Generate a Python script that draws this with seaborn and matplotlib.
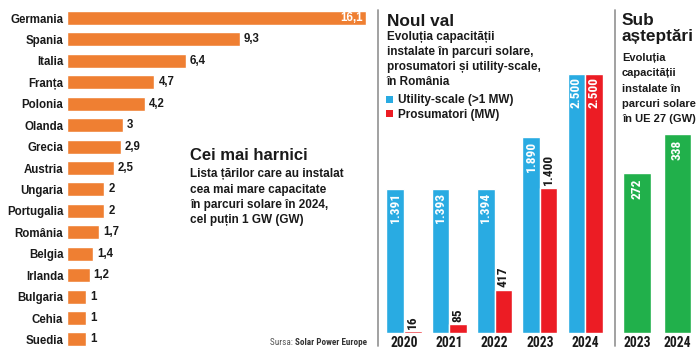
import matplotlib
matplotlib.use("Agg")
import matplotlib.pyplot as plt
from matplotlib.lines import Line2D
from matplotlib.patches import Rectangle
import seaborn as sns
import pandas as pd

# ---------------- data ----------------
countries = ["Germania", "Spania", "Italia", "Franța", "Polonia", "Olanda", "Grecia",
             "Austria", "Ungaria", "Portugalia", "România", "Belgia", "Irlanda",
             "Bulgaria", "Cehia", "Suedia"]
capacity_gw = [16.1, 9.3, 6.4, 4.7, 4.2, 3, 2.9, 2.5, 2, 2, 1.7, 1.4, 1.2, 1, 1, 1]

years_ro = ["2020", "2021", "2022", "2023", "2024"]
utility_mw = [1391, 1393, 1394, 1890, 2500]
prosumer_mw = [16, 85, 417, 1400, 2500]
series_names = ["Utility-scale (>1 MW)", "Prosumatori (MW)"]

years_eu = ["2023", "2024"]
eu_gw = [272, 338]

ORANGE = "#EF7F32"
BLUE = "#29ABE2"
RED = "#EC1C24"
GREEN = "#21B04B"
GRAY = "#9A9A9A"
INK = "#1a1a1a"

sns.set_theme(style="white")
REG = ["Liberation Sans", "DejaVu Sans"]
NAR = ["Roboto Condensed", "Archivo Narrow", "Liberation Sans", "DejaVu Sans"]
plt.rcParams["font.family"] = REG

W, H = 698, 353
fig = plt.figure(figsize=(W / 100, H / 100), dpi=100)
fig.patch.set_facecolor("white")


def ax_px(l, t, r, b):
    return fig.add_axes([l / W, 1 - b / H, (r - l) / W, (b - t) / H])


def ptext(x, y, s, **kw):
    kw.setdefault("va", "baseline")
    kw.setdefault("ha", "left")
    return fig.text(x / W, 1 - y / H, s, **kw)


def clean(ax):
    for sp in ax.spines.values():
        sp.set_visible(False)
    ax.set_facecolor("none")
    ax.set_xlabel("")
    ax.set_ylabel("")


def fmt_gw(v):
    return str(int(v)) if float(v).is_integer() else f"{v:.1f}".replace(".", ",")


def fmt_mw(v):
    return f"{int(v):,}".replace(",", ".")


# ---------------- panel 1 : countries ----------------
ax1 = ax_px(67.3, 7.3, 367.3, 350.2)
df1 = pd.DataFrame({"country": countries, "gw": capacity_gw})
sns.barplot(data=df1, x="gw", y="country", orient="h", color=ORANGE,
            saturation=1, width=0.653, ax=ax1)
ax1.set_xlim(0, 300 / 18.53)
ax1.set_ylim(15.5, -0.5)
clean(ax1)
ax1.set_xticks([])
ax1.tick_params(axis="y", left=False, length=0, pad=2.9)
for lab in ax1.get_yticklabels():
    lab.set_fontweight("bold")
    lab.set_fontsize(8.3)
    lab.set_color(INK)
for i, p in enumerate(ax1.patches[:len(countries)]):
    v = capacity_gw[i]
    yc = p.get_y() + p.get_height() / 2
    if i == 0:
        ax1.annotate(fmt_gw(v), (p.get_width(), yc), xytext=(-2.2, 0),
                     textcoords="offset points", ha="right", va="center",
                     color="white", fontweight="bold", fontsize=8.3)
    else:
        ax1.annotate(fmt_gw(v), (p.get_width(), yc), xytext=(2.9, 0),
                     textcoords="offset points", ha="left", va="center",
                     color=INK, fontweight="bold", fontsize=8.3)

ptext(190, 160.5, "Cei mai harnici", fontsize=12, fontweight="bold", color=INK)
for y, s in zip([177, 192.5, 208, 223],
                ["Lista țărilor care au instalat", "cea mai mare capacitate",
                 "în parcuri solare în 2024,", "cel puțin 1 GW (GW)"]):
    ptext(190, y, s, fontsize=8.5, fontweight="bold", color=INK)

src = ptext(367, 345, "Solar Power Europe", fontsize=6.6, fontweight="bold",
            color="#333333", ha="right", family=NAR)
fig.text(0, 0, "Sursa: ", fontsize=6.6, color="#555555", family=NAR,
         ha="right", va="baseline").set_visible(False)
fig.texts[-1].remove()
fig.add_artist(plt.Annotation("Sursa: ", xy=(0, 0), xycoords=src, ha="right",
                              va="bottom", fontsize=6.6, color="#555555",
                              family=NAR))

# ---------------- panel 2 : Romania ----------------
ax2 = ax_px(381.35, 74, 607.85, 333)
df2 = pd.DataFrame({
    "year": years_ro * 2,
    "mw": utility_mw + prosumer_mw,
    "series": [series_names[0]] * len(years_ro) + [series_names[1]] * len(years_ro),
})
sns.barplot(data=df2, x="year", y="mw", hue="series", palette=[BLUE, RED],
            saturation=1, width=0.777, ax=ax2, legend=False)
ax2.set_ylim(0, 2500)
ax2.set_xlim(-0.5, 4.5)
clean(ax2)
ax2.set_yticks([])
ax2.tick_params(axis="x", bottom=False, length=0, pad=2.2)
for lab in ax2.get_xticklabels():
    lab.set_fontweight("bold")
    lab.set_fontsize(9.8)
    lab.set_family(NAR)
    lab.set_color(INK)

for ci, cont in enumerate(ax2.containers):
    vals = utility_mw if ci == 0 else prosumer_mw
    for j, p in enumerate(cont):
        v = vals[j]
        xc = p.get_x() + p.get_width() / 2
        inside = v >= 1300 and not (ci == 1 and j == 3)
        if inside:
            ax2.annotate(fmt_mw(v), (xc, p.get_height()), xytext=(0, -2.4),
                         textcoords="offset points", ha="center", va="top",
                         rotation=90, color="white", fontweight="bold",
                         fontsize=9.6, family=NAR)
        else:
            ax2.annotate(fmt_mw(v), (xc, p.get_height()), xytext=(0, 1.8),
                         textcoords="offset points", ha="center", va="bottom",
                         rotation=90, color=INK, fontweight="bold",
                         fontsize=9.6, family=NAR, annotation_clip=False)

ptext(386.7, 26, "Noul val", fontsize=12.4, fontweight="bold", color=INK)
for y, s in zip([40, 55, 70, 85],
                ["Evoluția capacității", "instalate în parcuri solare,",
                 "prosumatori și utility-scale,", "în România"]):
    ptext(386.7, y, s, fontsize=8.5, fontweight="bold", color=INK)
for y, s, c in zip([103, 117.5], series_names, [BLUE, RED]):
    fig.add_artist(Rectangle((386 / W, 1 - (y - 0.5) / H), 7 / W, 7 / H,
                             transform=fig.transFigure, color=c, lw=0))
    ptext(398, y, s, fontsize=8.5, fontweight="bold", color=INK)

# ---------------- panel 3 : EU ----------------
ax3 = ax_px(616.75, 134, 697.75, 333)
df3 = pd.DataFrame({"year": years_eu, "gw": eu_gw})
sns.barplot(data=df3, x="year", y="gw", color=GREEN, saturation=1,
            width=0.69, ax=ax3)
ax3.set_ylim(0, 338)
ax3.set_xlim(-0.5, 1.5)
clean(ax3)
ax3.set_yticks([])
ax3.tick_params(axis="x", bottom=False, length=0, pad=2.2)
for lab in ax3.get_xticklabels():
    lab.set_fontweight("bold")
    lab.set_fontsize(9.8)
    lab.set_family(NAR)
    lab.set_color(INK)
for j, p in enumerate(ax3.patches[:len(eu_gw)]):
    xc = p.get_x() + p.get_width() / 2
    ax3.annotate(str(eu_gw[j]), (xc, p.get_height()), xytext=(0, -4.3),
                 textcoords="offset points", ha="center", va="top",
                 rotation=90, color="white", fontweight="bold",
                 fontsize=9.6, family=NAR)

ptext(622, 25, "Sub", fontsize=12.4, fontweight="bold", color=INK)
ptext(622, 41.5, "așteptări", fontsize=12.4, fontweight="bold", color=INK)
for y, s in zip([61, 76, 91.5, 106.5, 121.5],
                ["Evoluția", "capacității", "instalate în", "parcuri solare",
                 "în UE 27 (GW)"]):
    ptext(622, y, s, fontsize=8, fontweight="bold", color=INK)

# ---------------- separators ----------------
for x in (377.5, 614.5):
    fig.add_artist(Line2D([x / W, x / W], [1 - 10 / H, 1 - 346 / H],
                          transform=fig.transFigure, color=GRAY, lw=1.3))

fig.savefig("out.png", dpi=100, facecolor="white")
